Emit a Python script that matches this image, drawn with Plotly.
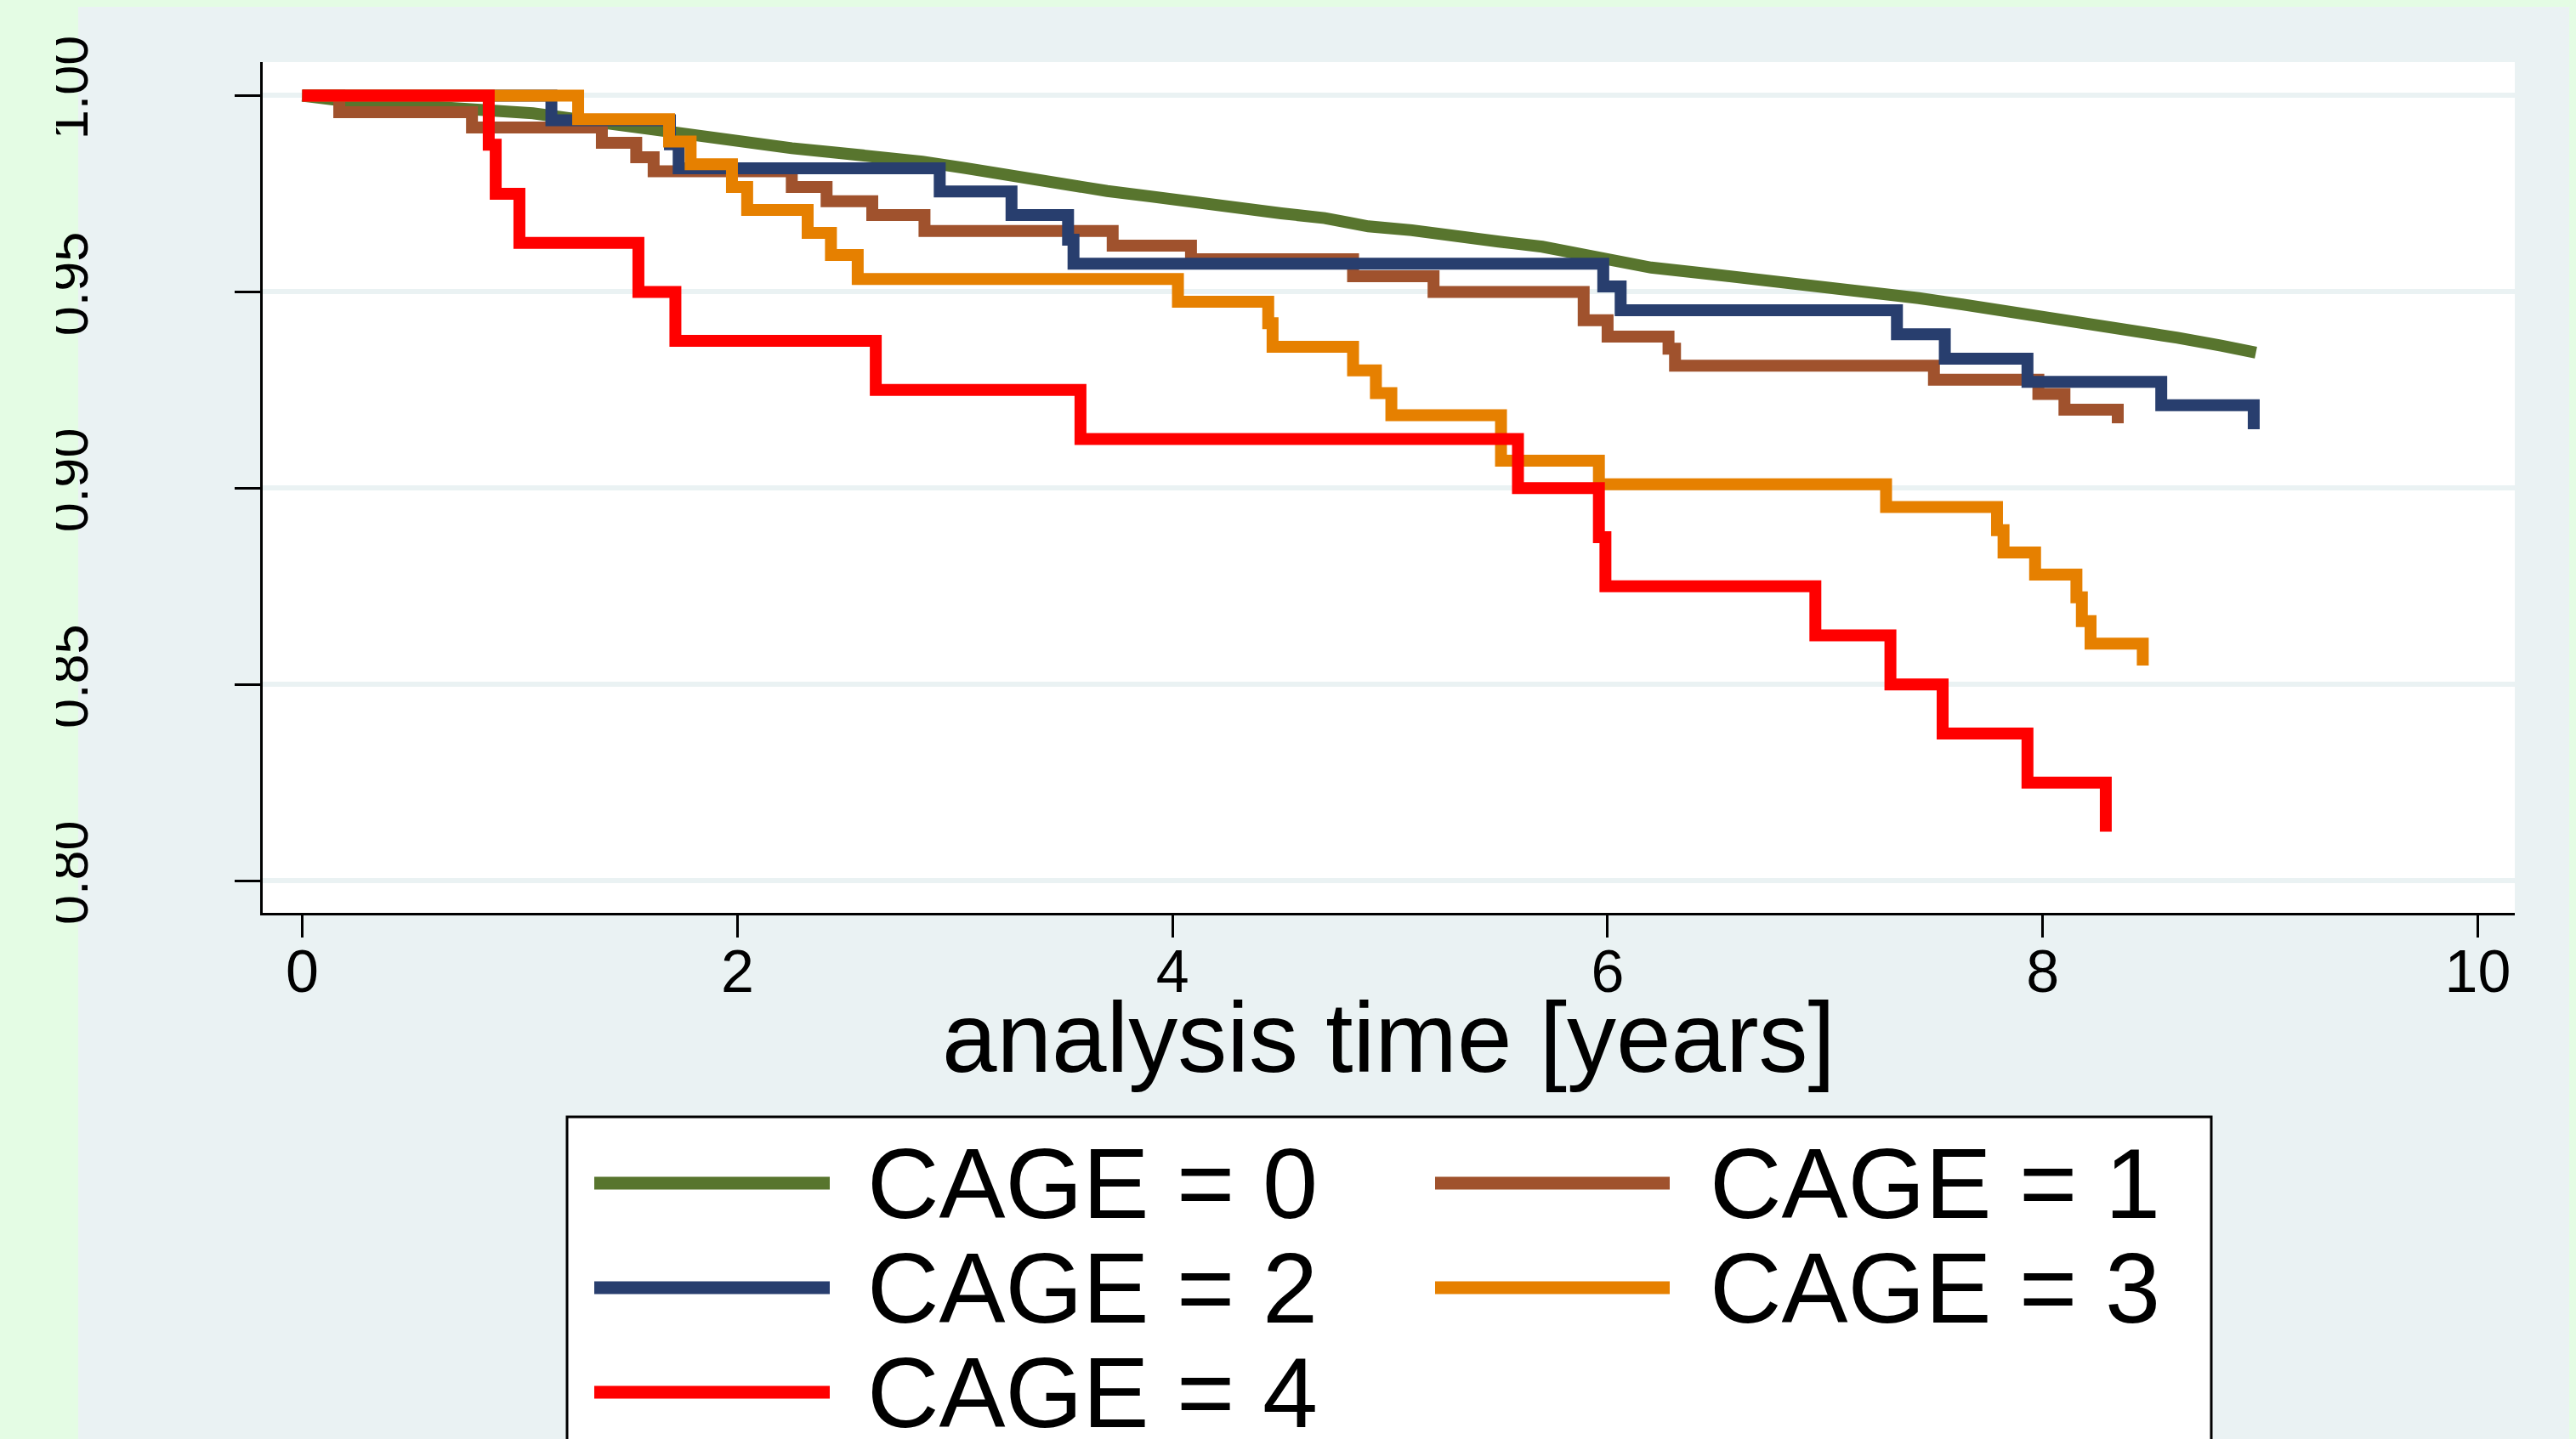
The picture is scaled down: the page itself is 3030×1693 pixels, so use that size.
import plotly.graph_objects as go

# ---------------- data ----------------
t_cage0 = [0, 0.13, 0.26, 0.45, 0.66, 0.86, 1.06, 1.26, 1.45, 1.65, 1.85, 2.05, 2.25, 2.45,
           2.65, 2.85, 3.05, 3.25, 3.45, 3.70, 3.90, 4.10, 4.30, 4.50, 4.70, 4.90, 5.10,
           5.30, 5.50, 5.70, 5.85, 6.00, 6.20, 6.43, 6.63, 6.83, 7.03, 7.23, 7.43, 7.63,
           7.83, 8.03, 8.23, 8.42, 8.62, 8.82, 8.98]
s_cage0 = [1.0, 0.9990, 0.9982, 0.9977, 0.9972, 0.9966, 0.9955, 0.9940, 0.9926, 0.9906,
           0.9892, 0.9877, 0.9866, 0.9855, 0.9847, 0.9832, 0.9815, 0.9796, 0.9782, 0.9757,
           0.9743, 0.9727, 0.9716, 0.9700, 0.9688, 0.9667, 0.9657, 0.9640, 0.9628, 0.9615,
           0.9598, 0.9583, 0.9562, 0.9548, 0.9536, 0.9525, 0.9512, 0.9500, 0.9484, 0.9468,
           0.9452, 0.9436, 0.9420, 0.9403, 0.9383, 0.9363, 0.9345]

t_cage1 = [0, 0.17, 0.78, 1.377, 1.535, 1.615, 2.25, 2.41, 2.62, 2.86, 3.725, 4.085, 4.83,
           5.20, 5.89, 6.00, 6.28, 6.31, 7.50, 7.98, 8.10, 8.345]
s_cage1 = [1.0, 0.9958, 0.9919, 0.9880, 0.9843, 0.9807, 0.9767, 0.9731, 0.9696, 0.9655,
           0.9618, 0.9583, 0.9540, 0.9500, 0.9428, 0.9386, 0.9355, 0.9312, 0.9276, 0.9240,
           0.9200, 0.9165]

t_cage2 = [0, 1.145, 1.69, 1.73, 2.93, 3.26, 3.52, 3.545, 5.98, 6.06, 7.33, 7.55, 7.93,
           8.545, 8.97]
s_cage2 = [1.0, 0.9937, 0.9876, 0.9815, 0.9756, 0.9696, 0.9633, 0.9572, 0.9514, 0.9453,
           0.9392, 0.9330, 0.9271, 0.9211, 0.9150]

t_cage3 = [0, 1.268, 1.686, 1.785, 1.975, 2.045, 2.323, 2.43, 2.553, 4.025, 4.44, 4.46,
           4.83, 4.935, 5.006, 5.51, 5.96, 7.28, 7.79, 7.82, 7.965, 8.155, 8.18, 8.22, 8.46]
s_cage3 = [1.0, 0.9940, 0.9883, 0.9825, 0.9767, 0.9709, 0.9650, 0.9594, 0.9533, 0.9475,
           0.9420, 0.9360, 0.9300, 0.9242, 0.9186, 0.9070, 0.9010, 0.8952, 0.8893, 0.8836,
           0.8780, 0.8722, 0.8661, 0.8604, 0.8548]

t_cage4 = [0, 0.857, 0.889, 0.998, 1.545, 1.715, 2.636, 3.577, 5.588, 5.96, 5.99, 6.955,
           7.30, 7.54, 7.93, 8.29]
s_cage4 = [1.0, 0.9875, 0.975, 0.9625, 0.95, 0.9375, 0.925, 0.9125, 0.90, 0.8875, 0.875,
           0.8625, 0.85, 0.8375, 0.825, 0.8125]

series_labels = ["CAGE = 0", "CAGE = 1", "CAGE = 2", "CAGE = 3", "CAGE = 4"]
series_colors = ["#58752E", "#A0522D", "#283E6E", "#E68000", "#FF0000"]
series_shape = ["linear", "hv", "hv", "hv", "hv"]   # CAGE=0 has very many tiny steps
series_t = [t_cage0, t_cage1, t_cage2, t_cage3, t_cage4]
series_s = [s_cage0, s_cage1, s_cage2, s_cage3, s_cage4]

x_ticks = [0, 2, 4, 6, 8, 10]
y_ticks = [0.80, 0.85, 0.90, 0.95, 1.00]
y_ticktext = ["0.80", "0.85", "0.90", "0.95", "1.00"]
x_title = "analysis time [years]"

# ---------------- layout geometry ----------------
# The page body keeps its default 8 px margin, so the figure starts at (8, 8)
# of the window; all target positions below are window pixels.
OFF = 8
WIN_W, WIN_H = 3030, 1693
W, H = WIN_W, WIN_H            # overflow beyond the window is hidden
PL, PR, PT, PB = 309, 2958, 73, 1074          # plot area in window pixels
BG = "#EAF2F3"
GREEN_BG = "#E4FCE4"
FONT = "Liberation Sans, Arial, Helvetica, sans-serif"


def px2x(px):
    return (px - PL) / (PR - PL)


def px2y(py):
    return (PB - py) / (PB - PT)


fig = go.Figure()
for t, s, c, shp, name in zip(series_t, series_s, series_colors, series_shape, series_labels):
    fig.add_trace(go.Scatter(x=t, y=s, mode="lines", name=name, showlegend=False,
                             line=dict(color=c, width=14, shape=shp)))

shapes = [
    # light-green strip at the left edge
    dict(type="rect", xref="paper", yref="paper", x0=px2x(-20), x1=px2x(92),
         y0=px2y(WIN_H + 20), y1=px2y(-20), fillcolor=GREEN_BG, line=dict(width=0),
         layer="below"),
    # the left edge of the picture cuts the rotated labels
    dict(type="rect", xref="paper", yref="paper", x0=px2x(-20), x1=px2x(66),
         y0=px2y(WIN_H + 20), y1=px2y(-20), fillcolor=GREEN_BG, line=dict(width=0),
         layer="above"),
    # legend frame (its bottom is cut by the picture edge)
    dict(type="rect", xref="paper", yref="paper", x0=px2x(667), x1=px2x(2601),
         y0=px2y(1740), y1=px2y(1314), fillcolor="white",
         line=dict(color="black", width=3), layer="above"),
]

annotations = [
    dict(text=x_title, xref="paper", yref="paper", x=0.5, y=px2y(1221),
         xanchor="center", yanchor="middle", showarrow=False,
         font=dict(family=FONT, size=116, color="black")),
]

# legend entries: 2 columns, filled row by row
col_line_x = [(699, 976), (1688, 1964)]
col_text_x = [1018, 2009]
row_y = [1392, 1515, 1638]
for i, (lab, col) in enumerate(zip(series_labels, series_colors)):
    r, c = divmod(i, 2)
    y = px2y(row_y[r])
    shapes.append(dict(type="line", xref="paper", yref="paper",
                       x0=px2x(col_line_x[c][0]), x1=px2x(col_line_x[c][1]), y0=y, y1=y,
                       line=dict(color=col, width=15), layer="above"))
    annotations.append(dict(text=lab, xref="paper", yref="paper", x=px2x(col_text_x[c]),
                            y=y, xanchor="left", yanchor="middle", showarrow=False,
                            font=dict(family=FONT, size=117, color="black")))

fig.update_layout(
    width=W, height=H,
    margin=dict(l=PL - OFF, r=W - (PR - OFF), t=PT - OFF, b=H - (PB - OFF),
                autoexpand=False),
    paper_bgcolor=BG, plot_bgcolor="white",
    showlegend=False,
    shapes=shapes, annotations=annotations,
    xaxis=dict(range=[-0.182, 10.17], tickvals=x_ticks, ticks="outside", ticklen=26,
               tickwidth=3, tickcolor="black", showline=True, linecolor="black",
               linewidth=3, showgrid=False, zeroline=False, ticklabelstandoff=-20,
               tickfont=dict(family=FONT, size=70, color="black")),
    yaxis=dict(range=[0.7918, 1.00855], tickvals=y_ticks, ticktext=y_ticktext,
               tickangle=-90, ticks="outside", ticklen=30, tickwidth=3, tickcolor="black",
               showline=True, linecolor="black", linewidth=3, showgrid=True,
               gridcolor=BG, gridwidth=6, zeroline=False, ticklabelstandoff=148,
               tickfont=dict(family=FONT, size=63, color="black")),
)

fig.write_html(
    "out.html",
    post_script=("document.body.style.background='%s';"
                 "document.body.style.overflow='hidden';"
                 "document.documentElement.style.overflow='hidden';") % GREEN_BG)
